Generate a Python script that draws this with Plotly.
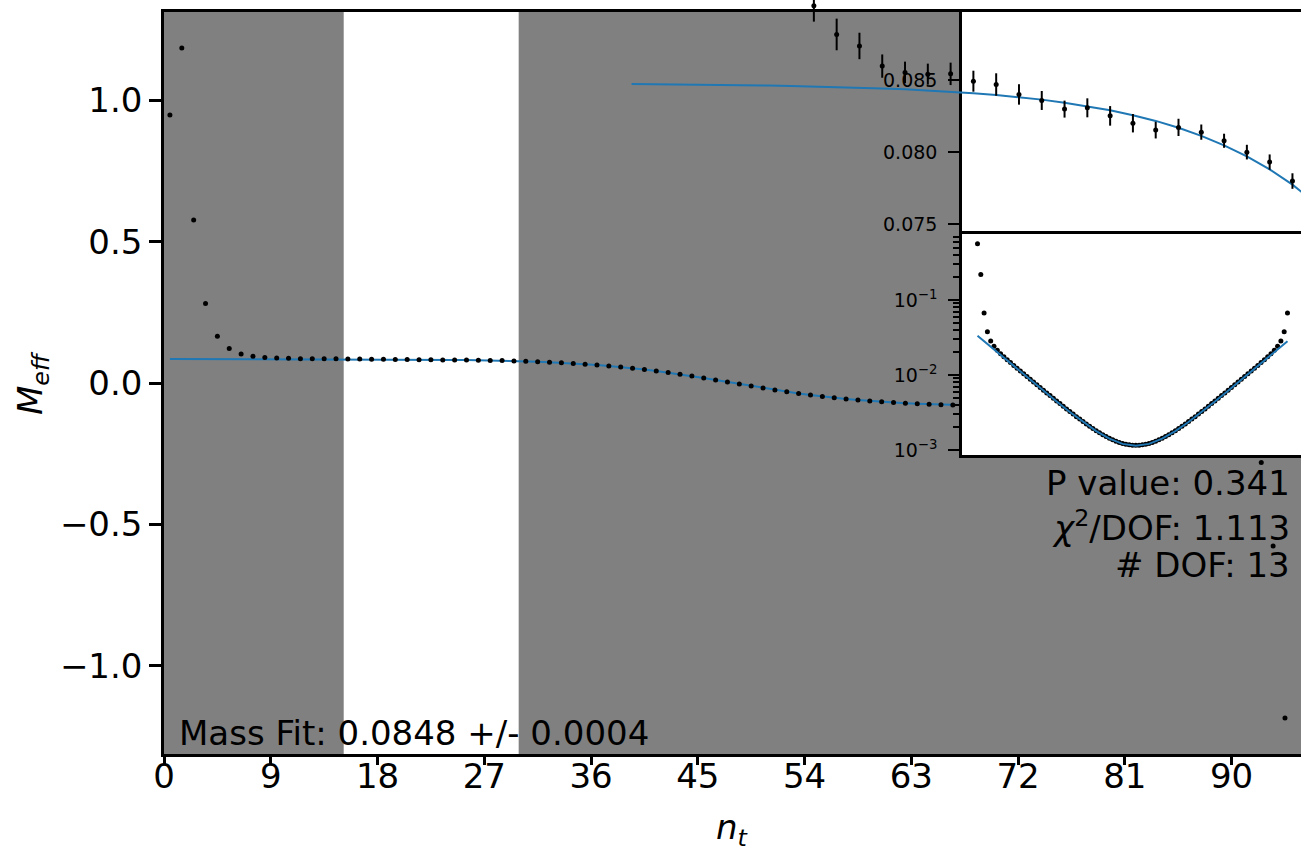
import plotly.graph_objects as go

# ---------------- data ----------------
t_slices = list(range(95))
nt_mid = [t + 0.5 for t in t_slices]

m_eff = [0.948, 1.185, 0.577, 0.281, 0.165, 0.122, 0.103, 0.0945,
         0.0902, 0.0882, 0.0874, 0.0860, 0.08556, 0.08544, 0.08546, 0.08495,
         0.08472, 0.08403, 0.08361, 0.08301, 0.08310, 0.08254, 0.08203, 0.08155,
         0.08174, 0.08141, 0.08081, 0.08002, 0.07933, 0.07801,
         0.0765, 0.0751, 0.0734, 0.0715, 0.0692, 0.0666, 0.0637, 0.0603, 0.0566,
         0.0523, 0.0477, 0.0425, 0.0369, 0.0309, 0.0245, 0.0177, 0.0107, 0.0036,
         -0.0036, -0.0107, -0.0177, -0.0245, -0.0309, -0.0369, -0.0425, -0.0477,
         -0.0523, -0.0566, -0.0603, -0.0637, -0.0666, -0.0692, -0.0715, -0.0734,
         -0.0751, -0.0765,
         -0.07801, -0.07933, -0.08002, -0.08081, -0.08141, -0.08174, -0.08155,
         -0.08203, -0.08254, -0.08310, -0.08301, -0.08361, -0.08403, -0.08472,
         -0.08495, -0.08546, -0.08544, -0.08556, -0.0860, -0.0874, -0.0882,
         -0.0902, -0.0945, -0.103, -0.122, -0.165, -0.281, -0.577, -1.185]

m_fit = [0.08475, 0.08474, 0.08472, 0.08471, 0.08469, 0.08467, 0.08465, 0.08462,
         0.08459, 0.08455, 0.08451, 0.08445, 0.08439, 0.08431, 0.08423, 0.08412,
         0.08399, 0.08385, 0.08367, 0.08346, 0.08321, 0.08293, 0.08258, 0.08219,
         0.08171, 0.08115, 0.08049, 0.07972, 0.07882, 0.07776,
         0.0765, 0.0751, 0.0734, 0.0715, 0.0692, 0.0666, 0.0637, 0.0603, 0.0566,
         0.0523, 0.0477, 0.0425, 0.0369, 0.0309, 0.0245, 0.0177, 0.0107, 0.0036,
         -0.0036, -0.0107, -0.0177, -0.0245, -0.0309, -0.0369, -0.0425, -0.0477,
         -0.0523, -0.0566, -0.0603, -0.0637, -0.0666, -0.0692, -0.0715, -0.0734,
         -0.0751, -0.0765,
         -0.07776, -0.07882, -0.07972, -0.08049, -0.08115, -0.08171, -0.08219,
         -0.08258, -0.08293, -0.08321, -0.08346, -0.08367, -0.08385, -0.08399,
         -0.08412, -0.08423, -0.08431, -0.08439, -0.08445, -0.08451, -0.08455,
         -0.08459, -0.08462, -0.08465, -0.08467, -0.08469, -0.08471, -0.08472,
         -0.08474]

# zoomed plateau inset (t = 8 .. 29)
zoom_t_first, zoom_t_last = 8, 29
zoom_err = [0.00111, 0.00110, 0.00092, 0.00081, 0.00075, 0.00073, 0.00078,
            0.00073, 0.00078, 0.00071, 0.00066, 0.00059, 0.00066, 0.00068,
            0.00064, 0.00058, 0.00060, 0.00053, 0.00049, 0.00051, 0.00053,
            0.00054]

# correlator (log inset)
corr = [0.563, 0.2184, 0.06685, 0.03758, 0.02840, 0.02409, 0.02133, 0.01924, 0.01752, 0.01602,
        0.01467, 0.01343, 0.01233, 0.01132, 0.01039, 0.009539, 0.008762, 0.008049, 0.007400, 0.006806,
        0.006263, 0.005764, 0.005307, 0.004888, 0.004505, 0.004152, 0.003827, 0.003530, 0.003259, 0.003010,
        0.002784, 0.002579, 0.002393, 0.002223, 0.002070, 0.001931, 0.001807, 0.001695, 0.001596, 0.001508,
        0.001432, 0.001365, 0.001308, 0.001261, 0.001223, 0.001193, 0.001173, 0.001160, 0.001156,
        0.001160, 0.001173, 0.001193, 0.001223, 0.001261, 0.001308, 0.001365, 0.001432,
        0.001508, 0.001596, 0.001695, 0.001807, 0.001931, 0.002070, 0.002223, 0.002393, 0.002579, 0.002784,
        0.003010, 0.003259, 0.003530, 0.003827, 0.004152, 0.004505, 0.004888, 0.005307, 0.005764, 0.006263,
        0.006806, 0.007400, 0.008049, 0.008762, 0.009539, 0.01039, 0.01132, 0.01233, 0.01343, 0.01467,
        0.01602, 0.01752, 0.01924, 0.02133, 0.02409, 0.02840, 0.03758, 0.06685]
corr_fit_t = [0, 4, 8, 12, 16, 20, 24, 28, 32, 36, 40, 44, 48, 52, 56, 60, 64,
              68, 72, 76, 80, 84, 88, 92, 94]
corr_fit = [0.03341, 0.02380, 0.01697, 0.01210, 0.008638, 0.006179, 0.004436,
            0.003214, 0.002362, 0.001784, 0.001413, 0.001206, 0.001140, 0.001206,
            0.001413, 0.001784, 0.002362, 0.003214, 0.004436, 0.006179, 0.008638,
            0.01210, 0.01697, 0.02380, 0.02820]

fit_window = [15.15, 29.9]
x_ticks = [0, 9, 18, 27, 36, 45, 54, 63, 72, 81, 90]
y_ticks = [-1.0, -0.5, 0.0, 0.5, 1.0]
y_ticktext = ["\u22121.0", "\u22120.5", "0.0", "0.5", "1.0"]
zoom_ticks = [0.075, 0.080, 0.085]
log_ticks = [1e-3, 1e-2, 1e-1]
log_ticktext = ["10<sup>\u22123</sup>", "10<sup>\u22122</sup>", "10<sup>\u22121</sup>"]
log_minor = [k * 10.0 ** e for e in (-3, -2, -1) for k in range(2, 10)]

texts_fit = ["P value: 0.341", "<i>\u03c7</i><sup>2</sup>/DOF: 1.113", "# DOF: 13"]
text_mass = "Mass Fit: 0.0848 +/- 0.0004"

# ---------------- geometry ----------------
W, H = 1301, 854
ML, MR, MT, MB = 164, 0, 0, 100
PW, PH = W - ML - MR, H - MT - MB


def dx(px):
    return (px - ML) / PW


def dy(py):
    return (H - MB - py) / PH


FONT = "DejaVu Sans"
BLUE = "#1f77b4"

main_x_range = [0, 95.85]
main_y_range = [-1.3124, 1.3124]
ins_x_dom = [dx(962), 1.0]
up_y_dom = [dy(233.7), dy(12)]
lo_y_dom = [dy(455), dy(233.7)]
up_x_range = [15.0, 29.875]
up_y_range = [0.07435, 0.08976]
lo_x_range = [-4.7, 98.1]
lo_y_range = [-3.067, -0.116]

sx = (up_x_range[1] - up_x_range[0]) / (ins_x_dom[1] - ins_x_dom[0])
aux_x_range = [up_x_range[0] - ins_x_dom[0] * sx, up_x_range[0] + (1 - ins_x_dom[0]) * sx]
sy = (up_y_range[1] - up_y_range[0]) / (up_y_dom[1] - up_y_dom[0])
aux_y_range = [up_y_range[0] - up_y_dom[0] * sy, up_y_range[0] + (1 - up_y_dom[0]) * sy]


def panel_background(xr, yr, xa, ya):
    """white, opaque inset background spanning the whole axes area"""
    return go.Scatter(x=[xr[0], xr[1], xr[1], xr[0], xr[0]],
                      y=[yr[0], yr[0], yr[1], yr[1], yr[0]],
                      mode="lines", fill="toself", fillcolor="white",
                      line=dict(width=0, color="white"), hoverinfo="skip",
                      xaxis=xa, yaxis=ya, showlegend=False)


fig = go.Figure()

# main panel
fig.add_trace(go.Scatter(x=nt_mid, y=m_fit, mode="lines", line=dict(color=BLUE, width=2),
                         xaxis="x", yaxis="y", showlegend=False))
fig.add_trace(go.Scatter(x=nt_mid, y=m_eff, mode="markers",
                         marker=dict(color="black", size=5), xaxis="x", yaxis="y",
                         showlegend=False))

# upper inset background (its content is drawn through the full-area twin axes x4/y4)
fig.add_trace(panel_background(up_x_range, up_y_range, "x2", "y2"))

# lower inset
fig.add_trace(panel_background(lo_x_range, [10 ** lo_y_range[0], 10 ** lo_y_range[1]],
                               "x3", "y3"))
fig.add_trace(go.Scatter(x=t_slices, y=corr, mode="markers", marker=dict(color="black", size=5),
                         xaxis="x3", yaxis="y3", showlegend=False))
fig.add_trace(go.Scatter(x=corr_fit_t, y=corr_fit, mode="lines", line=dict(color=BLUE, width=2),
                         xaxis="x3", yaxis="y3", showlegend=False))

# zoom inset content
fig.add_trace(go.Scatter(x=nt_mid, y=m_fit, mode="lines", line=dict(color=BLUE, width=2),
                         xaxis="x4", yaxis="y4", showlegend=False))
fig.add_trace(go.Scatter(x=nt_mid[zoom_t_first:zoom_t_last + 1],
                         y=m_eff[zoom_t_first:zoom_t_last + 1], mode="markers",
                         marker=dict(color="black", size=5),
                         error_y=dict(type="data", array=zoom_err, visible=True,
                                      color="black", thickness=2, width=0),
                         xaxis="x4", yaxis="y4", showlegend=False, cliponaxis=False))

shapes = [
    dict(type="rect", xref="x", yref="y domain", x0=main_x_range[0], x1=fit_window[0],
         y0=0, y1=1, fillcolor="#808080", line=dict(width=0), layer="below"),
    dict(type="rect", xref="x", yref="y domain", x0=fit_window[1], x1=main_x_range[1],
         y0=0, y1=1, fillcolor="#808080", line=dict(width=0), layer="below"),
]

ann_font = dict(family=FONT, size=34, color="black")
annotations = [
    dict(text=text_mass, xref="paper", yref="paper", x=dx(177), y=dy(733),
         xanchor="left", yanchor="middle", showarrow=False, font=ann_font),
    dict(text=texts_fit[0], xref="paper", yref="paper", x=dx(1292), y=dy(483),
         xanchor="right", yanchor="middle", showarrow=False, font=ann_font),
    dict(text=texts_fit[1], xref="paper", yref="paper", x=dx(1292), y=dy(526),
         xanchor="right", yanchor="middle", showarrow=False, font=ann_font),
    dict(text=texts_fit[2], xref="paper", yref="paper", x=dx(1292), y=dy(565),
         xanchor="right", yanchor="middle", showarrow=False, font=ann_font),
    dict(text="<i>M</i><sub><i>eff</i></sub>", xref="paper", yref="paper", x=dx(32),
         y=dy(383), xanchor="center", yanchor="middle", textangle=-90,
         showarrow=False, font=ann_font),
    dict(text="<i>n</i><sub><i>t</i></sub>", xref="paper", yref="paper", x=dx(732),
         y=dy(829), xanchor="center", yanchor="middle", showarrow=False, font=ann_font),
]

tickfont = dict(family=FONT, size=34, color="black")
smallfont = dict(family=FONT, size=19, color="black")

fig.update_layout(
    width=W, height=H,
    margin=dict(l=ML, r=MR, t=MT, b=MB, pad=0),
    paper_bgcolor="white", plot_bgcolor="rgba(0,0,0,0)",
    showlegend=False,
    shapes=shapes, annotations=annotations,
    xaxis=dict(domain=[0, 1], range=main_x_range, anchor="y", tickvals=x_ticks,
               ticks="outside", ticklen=8, tickwidth=2.5, tickcolor="black",
               showline=True, linewidth=2.5, linecolor="black", mirror=True,
               showgrid=False, zeroline=False, tickfont=tickfont, ticklabelstandoff=-18),
    yaxis=dict(domain=[0, dy(12)], range=main_y_range, anchor="x", tickvals=y_ticks,
               ticktext=y_ticktext, ticks="outside", ticklen=12, tickwidth=2.5,
               tickcolor="black", showline=True, linewidth=2.5, linecolor="black",
               showgrid=False, zeroline=False, tickfont=tickfont),
    xaxis2=dict(domain=ins_x_dom, range=up_x_range, anchor="y2", showticklabels=False,
                ticks="", showline=True, linewidth=2.5, linecolor="black", mirror=True,
                showgrid=False, zeroline=False),
    yaxis2=dict(domain=up_y_dom, range=up_y_range, anchor="x2", tickvals=zoom_ticks,
                ticktext=["%.3f" % v for v in zoom_ticks], ticks="outside", ticklen=11,
                tickwidth=2, tickcolor="black", showline=True, linewidth=2.5,
                linecolor="black", showgrid=False, zeroline=False, tickfont=smallfont,
                ticklabelstandoff=7),
    xaxis3=dict(domain=ins_x_dom, range=lo_x_range, anchor="y3", showticklabels=False,
                ticks="", showline=True, linewidth=2.5, linecolor="black", mirror=True,
                showgrid=False, zeroline=False),
    yaxis3=dict(domain=lo_y_dom, range=lo_y_range, type="log", anchor="x3",
                tickvals=log_ticks, ticktext=log_ticktext, ticks="outside", ticklen=11,
                tickwidth=2, tickcolor="black", showline=True, linewidth=2.5,
                linecolor="black", showgrid=False, zeroline=False, tickfont=smallfont,
                ticklabelstandoff=7,
                minor=dict(tickvals=log_minor, ticks="outside", ticklen=6, tickwidth=1.5,
                           tickcolor="black", showgrid=False)),
    xaxis4=dict(domain=[0, 1], range=aux_x_range, anchor="y4", visible=False),
    yaxis4=dict(domain=[0, 1], range=aux_y_range, anchor="x4", visible=False),
)

fig.write_html("out.html")
